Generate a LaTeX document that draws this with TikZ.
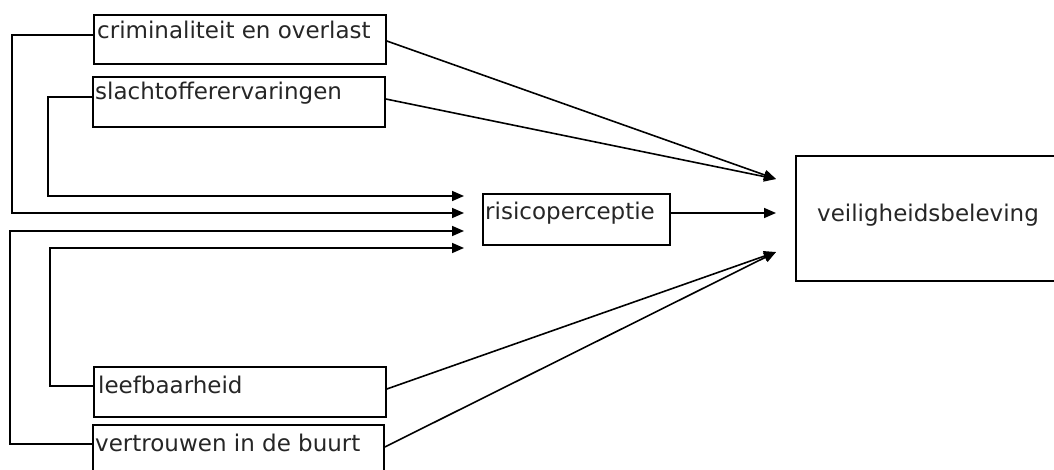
\documentclass[tikz,border=0pt]{standalone}
\usepackage{fontspec}
\setmainfont{DejaVu Sans}
\usetikzlibrary{arrows.meta,calc}
\begin{document}
\begin{tikzpicture}[x=1pt,y=-1pt,
  box/.style={draw,line width=1.8pt,inner sep=0pt,anchor=north west},
  lbl/.style={anchor=base west,inner sep=0pt,font=\fontsize{23}{27}\selectfont,text=black!85},
  arr/.style={line width=1.6pt,-{Triangle[length=12pt,width=10pt]}}]
\useasboundingbox (0,0) rectangle (1054,470);
\clip (0,0) rectangle (1054,470);
\fill[white] (0,0) rectangle (1054,470);

% boxes
\node[box,minimum width=292pt,minimum height=49pt] (crim) at (93,14) {};
\node[box,minimum width=292pt,minimum height=50pt] (slacht) at (92,76) {};
\node[box,minimum width=187pt,minimum height=51pt] (risico) at (482,193) {};
\node[box,minimum width=275pt,minimum height=125pt] (veilig) at (795,155) {};
\node[box,minimum width=292pt,minimum height=50pt] (leef) at (93,366) {};
\node[box,minimum width=291pt,minimum height=60pt] (vertr) at (92,424) {};

% labels
\node[lbl] (crimT) at ($(crim.north west)+(4,25)$) {criminaliteit en overlast};
\node[lbl] (slachtT) at ($(slacht.north west)+(3,24)$) {slachtofferervaringen};
\node[lbl] (risicoT) at ($(risico.north west)+(3,27)$) {risicoperceptie};
\node[lbl,anchor=base] (veiligT) at (928,222) {veiligheidsbeleving};
\node[lbl] (leefT) at ($(leef.north west)+(5,27)$) {leefbaarheid};
\node[lbl] (vertrT) at ($(vertr.north west)+(3,27)$) {vertrouwen in de buurt};

% arrow end points at the left of risicoperceptie
\coordinate (t1) at (464,196);
\coordinate (t2) at (464,213);
\coordinate (t3) at (464,231);
\coordinate (t4) at (464,248);
% bends
\coordinate (b1) at (48,196);
\coordinate (b2) at (12,213);
\coordinate (b3) at (10,231);
\coordinate (b4) at (50,248);
% start points on box left sides
\coordinate (s1) at ($(crim.north west)+(0,21)$);
\coordinate (s2) at ($(slacht.north west)+(0,21)$);
\coordinate (s3) at ($(vertr.north west)+(0,20)$);
\coordinate (s4) at ($(leef.north west)+(0,20)$);

\draw[arr] (s1) -| (b2) -- (t2);
\draw[arr] (s2) -| (b1) -- (t1);
\draw[arr] (s3) -| (b3) -- (t3);
\draw[arr] (s4) -| (b4) -- (t4);

% arrow end points at the left of veiligheidsbeleving
\coordinate (v1) at (776,179);
\coordinate (v2) at (776,213);
\coordinate (v3) at (776,252);

\draw[arr] ($(crim.north east)+(0,27)$) -- (v1);
\draw[arr] ($(slacht.north east)+(0,23)$) -- (v1);
\draw[arr] (risico.east |- v2) -- (v2);
\draw[arr] ($(leef.north east)+(0,23)$) -- (v3);
\draw[arr] ($(vertr.north east)+(0,23)$) -- (v3);
\end{tikzpicture}
\end{document}
